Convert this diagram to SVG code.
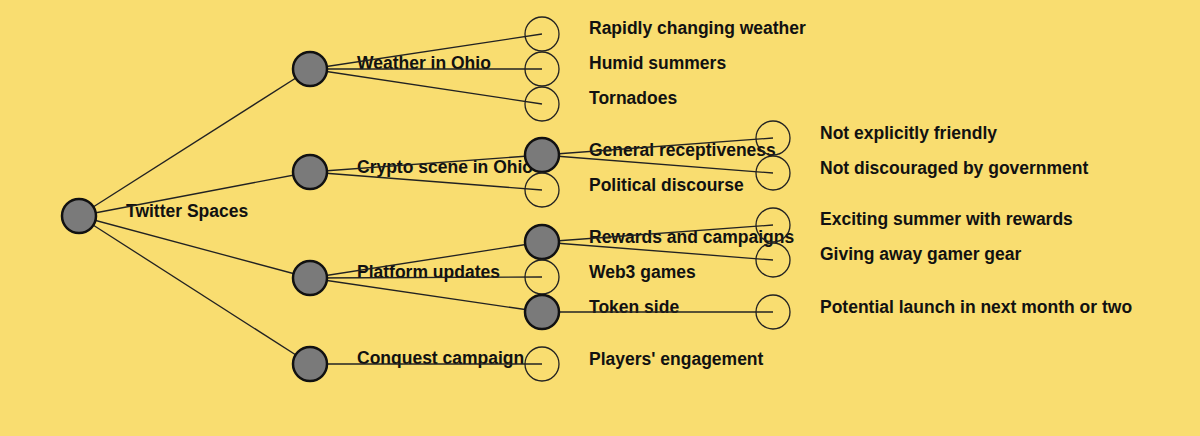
<svg xmlns="http://www.w3.org/2000/svg" width="1200" height="436" viewBox="0 0 1200 436">
<style>
text{font-family:"Liberation Sans",Arial,sans-serif;font-weight:bold;font-size:17.5px;fill:#111}
.e line{stroke:#222;stroke-width:1.3}
.f{fill:#7a7a7a;stroke:#111;stroke-width:2.5}
.h{fill:none;stroke:#222;stroke-width:1.3}
</style>
<rect width="1200" height="436" fill="#f9dd70"/>
<g id="labels">
<text x="126" y="217">Twitter Spaces</text>
<text x="357" y="69">Weather in Ohio</text>
<text x="357" y="173">Crypto scene in Ohio</text>
<text x="357" y="278">Platform updates</text>
<text x="357" y="364">Conquest campaign</text>
<text x="589" y="34">Rapidly changing weather</text>
<text x="589" y="69">Humid summers</text>
<text x="589" y="104">Tornadoes</text>
<text x="589" y="156">General receptiveness</text>
<text x="589" y="191">Political discourse</text>
<text x="589" y="243">Rewards and campaigns</text>
<text x="589" y="278">Web3 games</text>
<text x="589" y="313">Token side</text>
<text x="589" y="365">Players' engagement</text>
<text x="820" y="139">Not explicitly friendly</text>
<text x="820" y="174">Not discouraged by government</text>
<text x="820" y="225">Exciting summer with rewards</text>
<text x="820" y="260">Giving away gamer gear</text>
<text x="820" y="313">Potential launch in next month or two</text>
</g>
<g id="connectors" class="e">
<line x1="79" y1="216" x2="310" y2="69"/>
<line x1="79" y1="216" x2="310" y2="172"/>
<line x1="79" y1="216" x2="310" y2="278"/>
<line x1="79" y1="216" x2="310" y2="364"/>
<line x1="310" y1="69" x2="542" y2="34"/>
<line x1="310" y1="69" x2="542" y2="69"/>
<line x1="310" y1="69" x2="542" y2="104"/>
<line x1="310" y1="172" x2="542" y2="155"/>
<line x1="310" y1="172" x2="542" y2="190"/>
<line x1="310" y1="278" x2="542" y2="242"/>
<line x1="310" y1="278" x2="542" y2="277"/>
<line x1="310" y1="278" x2="542" y2="312"/>
<line x1="310" y1="364" x2="542" y2="364"/>
<line x1="542" y1="155" x2="773" y2="138"/>
<line x1="542" y1="155" x2="773" y2="173"/>
<line x1="542" y1="242" x2="773" y2="225"/>
<line x1="542" y1="242" x2="773" y2="260"/>
<line x1="542" y1="312" x2="773" y2="312"/>
</g>
<g id="root"><circle class="f" cx="79" cy="216" r="17"/></g>
<g id="n-weather"><circle class="f" cx="310" cy="69" r="17"/></g>
<g id="n-crypto"><circle class="f" cx="310" cy="172" r="17"/></g>
<g id="n-platform"><circle class="f" cx="310" cy="278" r="17"/></g>
<g id="n-conquest"><circle class="f" cx="310" cy="364" r="17"/></g>
<g id="n-rapid"><circle class="h" cx="542" cy="34" r="17"/></g>
<g id="n-humid"><circle class="h" cx="542" cy="69" r="17"/></g>
<g id="n-tornado"><circle class="h" cx="542" cy="104" r="17"/></g>
<g id="n-general"><circle class="f" cx="542" cy="155" r="17"/></g>
<g id="n-political"><circle class="h" cx="542" cy="190" r="17"/></g>
<g id="n-rewards"><circle class="f" cx="542" cy="242" r="17"/></g>
<g id="n-web3"><circle class="h" cx="542" cy="277" r="17"/></g>
<g id="n-token"><circle class="f" cx="542" cy="312" r="17"/></g>
<g id="n-players"><circle class="h" cx="542" cy="364" r="17"/></g>
<g id="n-friendly"><circle class="h" cx="773" cy="138" r="17"/></g>
<g id="n-gov"><circle class="h" cx="773" cy="173" r="17"/></g>
<g id="n-summer"><circle class="h" cx="773" cy="225" r="17"/></g>
<g id="n-gear"><circle class="h" cx="773" cy="260" r="17"/></g>
<g id="n-launch"><circle class="h" cx="773" cy="312" r="17"/></g>
</svg>
